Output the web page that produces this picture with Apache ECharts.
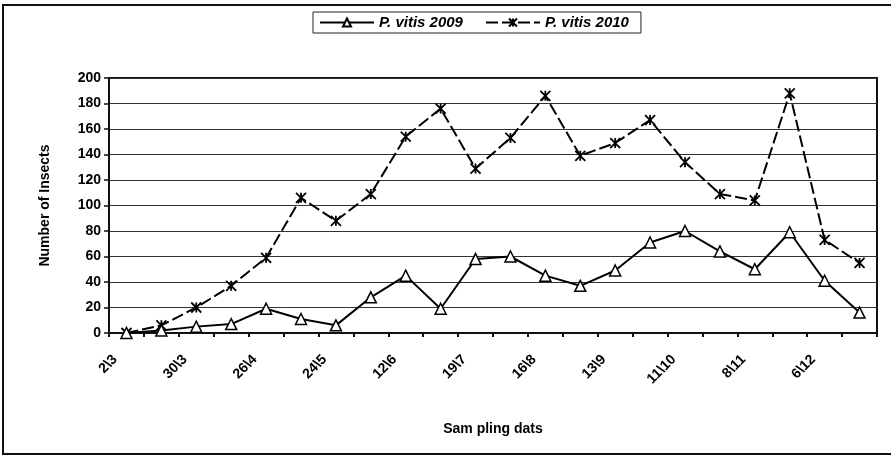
<!DOCTYPE html>
<html>
<head>
<meta charset="utf-8">
<script src="https://cdn.jsdelivr.net/npm/echarts@6/dist/echarts.min.js"></script>
<style>
  html, body { margin: 0; padding: 0; background: #fff; }
  #chart { width: 891px; height: 457px; }
</style>
</head>
<body>
<div id="chart"></div>
<script>
  // sampling dates (only every other one is labelled on the axis)
  const dates = ['2\\3', '16\\3', '30\\3', '12\\4', '26\\4', '10\\5', '24\\5', '29\\5',
    '12\\6', '26\\6', '19\\7', '2\\8', '16\\8', '30\\8', '13\\9', '27\\9',
    '11\\10', '25\\10', '8\\11', '22\\11', '6\\12', '20\\12']
  const vitis2009 = [0, 2, 5, 7, 19, 11, 6, 28, 45, 19, 58, 60, 45, 37, 49, 71, 80, 64, 50, 79, 41, 16]
  const vitis2010 = [0, 6, 20, 37, 59, 106, 88, 109, 154, 176, 129, 153, 186, 139, 149, 167, 134, 109, 104, 188, 73, 55]
  const yTicks = { min: 0, max: 200, step: 20 }

  const font = 'Liberation Sans, Arial, sans-serif'
  const starSymbol = 'path://M0,0L10,10M10,0L0,10M5,0L5,10'

  const chart = echarts.init(document.getElementById('chart'))

  chart.setOption({
    animation: false,
    backgroundColor: '#fff',
    textStyle: { fontFamily: font },
    graphic: [{
      type: 'rect',
      shape: { x: 3, y: 5, width: 900, height: 449 },
      style: { fill: 'none', stroke: '#111', lineWidth: 2 },
      silent: true
    }],
    legend: {
      top: 12,
      left: 313,
      borderColor: '#222',
      borderWidth: 1,
      padding: [3, 12, 3, 6],
      itemWidth: 54,
      itemHeight: 10,
      itemGap: 22,
      textStyle: { fontFamily: font, fontSize: 15, fontWeight: 'bold', fontStyle: 'italic', color: '#000' },
      data: ['P. vitis 2009', 'P. vitis 2010']
    },
    grid: {
      left: 109,
      right: 14,
      top: 78,
      bottom: 124,
      show: true,
      borderColor: '#111',
      borderWidth: 2
    },
    xAxis: {
      type: 'category',
      data: dates,
      boundaryGap: true,
      name: 'Sam pling dats',
      nameLocation: 'middle',
      nameGap: 89,
      nameTextStyle: { fontFamily: font, fontSize: 14, fontWeight: 'bold', color: '#000' },
      axisLine: { lineStyle: { color: '#111', width: 2 } },
      axisTick: { show: true, interval: 0, length: 4, lineStyle: { color: '#111', width: 2 } },
      axisLabel: {
        interval: 1,
        rotate: 45,
        margin: 13,
        padding: [0, 16, 0, 0],
        fontFamily: font,
        fontSize: 14,
        fontWeight: 'bold',
        color: '#000'
      },
      splitLine: { show: false }
    },
    yAxis: {
      type: 'value',
      min: yTicks.min,
      max: yTicks.max,
      interval: yTicks.step,
      name: 'Number of Insects',
      nameLocation: 'middle',
      nameGap: 57,
      nameTextStyle: { fontFamily: font, fontSize: 14, fontWeight: 'bold', color: '#000' },
      axisLine: { show: true, lineStyle: { color: '#111', width: 2 } },
      axisTick: { show: true, length: 5, lineStyle: { color: '#111', width: 1.5 } },
      axisLabel: { fontFamily: font, fontSize: 14, fontWeight: 'bold', color: '#000', margin: 8 },
      splitLine: { show: true, lineStyle: { color: '#333', width: 1 } }
    },
    series: [
      {
        name: 'P. vitis 2009',
        type: 'line',
        data: vitis2009,
        symbol: 'triangle',
        symbolSize: 11,
        lineStyle: { color: '#000', width: 2 },
        itemStyle: { color: '#fff', borderColor: '#000', borderWidth: 1.5 },
        z: 3
      },
      {
        name: 'P. vitis 2010',
        type: 'line',
        data: vitis2010,
        symbol: starSymbol,
        symbolSize: 10,
        lineStyle: { color: '#000', width: 2, type: [12, 4] },
        itemStyle: { color: '#000', borderColor: '#000', borderWidth: 1.8 },
        z: 2
      }
    ]
  })
</script>
</body>
</html>
